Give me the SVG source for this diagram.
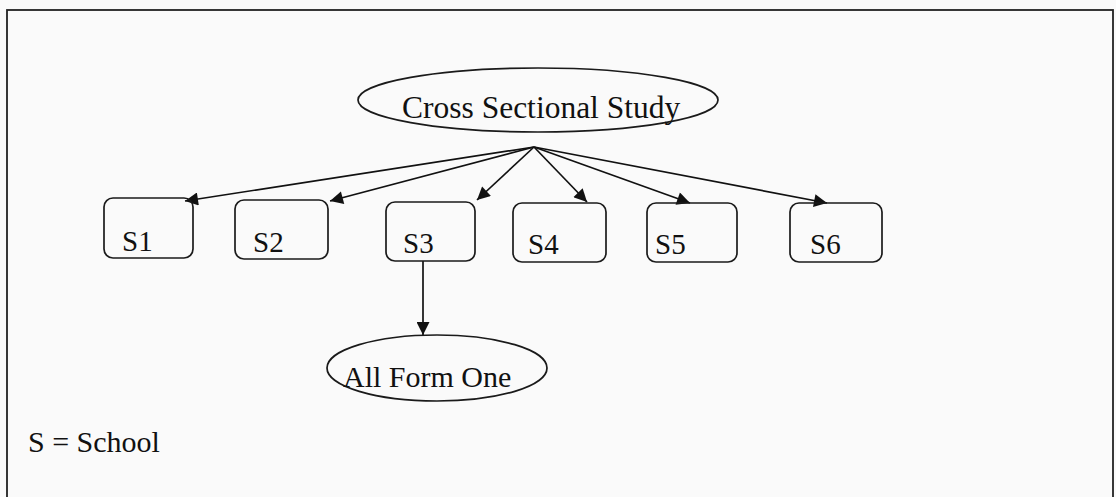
<svg xmlns="http://www.w3.org/2000/svg" width="1116" height="497" viewBox="0 0 1116 497">
<style>
  text { font-family: "Liberation Serif", "Times New Roman", serif; fill: #111; }
  .box { fill: none; stroke: #1a1a1a; stroke-width: 1.7; }
  .conn { stroke: #111; stroke-width: 1.7; fill: none; marker-end: url(#arr); }
</style>
<defs>
  <marker id="arr" viewBox="0 0 10 10" refX="10" refY="5" markerWidth="15" markerHeight="13" markerUnits="userSpaceOnUse" orient="auto">
    <path d="M0,0 L10,5 L0,10 Z" fill="#111"/>
  </marker>
</defs>
<rect x="0" y="0" width="1116" height="497" fill="#fafafa"/>
<rect x="7" y="10" width="1106" height="500" fill="none" stroke="#222" stroke-width="1.8"/>
<g id="connectors">
  <line class="conn" x1="534" y1="147" x2="185" y2="201"/>
  <line class="conn" x1="534" y1="147" x2="330" y2="201"/>
  <line class="conn" x1="534" y1="147" x2="477" y2="200"/>
  <line class="conn" x1="534" y1="147" x2="587" y2="202"/>
  <line class="conn" x1="534" y1="147" x2="690" y2="203"/>
  <line class="conn" x1="534" y1="147" x2="827" y2="203"/>
  <line class="conn" x1="423" y1="261" x2="423" y2="335"/>
</g>
<g id="cross-sectional">
  <ellipse class="box" cx="538" cy="100" rx="180" ry="32"/>
  <text x="402" y="118" font-size="31.5">Cross Sectional Study</text>
</g>
<g id="s1">
  <rect class="box" x="104" y="198" width="89" height="60" rx="9"/>
  <text x="122" y="251" font-size="29">S1</text>
</g>
<g id="s2">
  <rect class="box" x="235" y="200" width="93" height="59" rx="9"/>
  <text x="253" y="252" font-size="29">S2</text>
</g>
<g id="s3">
  <rect class="box" x="386" y="202" width="89" height="59" rx="9"/>
  <text x="403" y="253" font-size="29">S3</text>
</g>
<g id="s4">
  <rect class="box" x="513" y="203" width="93" height="59" rx="9"/>
  <text x="528" y="254" font-size="29">S4</text>
</g>
<g id="s5">
  <rect class="box" x="647" y="203" width="90" height="59" rx="9"/>
  <text x="655" y="254" font-size="29">S5</text>
</g>
<g id="s6">
  <rect class="box" x="790" y="203" width="92" height="59" rx="9"/>
  <text x="810" y="254" font-size="29">S6</text>
</g>
<g id="all-form-one">
  <ellipse class="box" cx="437" cy="368" rx="110" ry="33"/>
  <text x="343" y="387" font-size="30">All Form One</text>
</g>
<g id="legend">
  <text x="28" y="452" font-size="30">S = School</text>
</g>
</svg>
